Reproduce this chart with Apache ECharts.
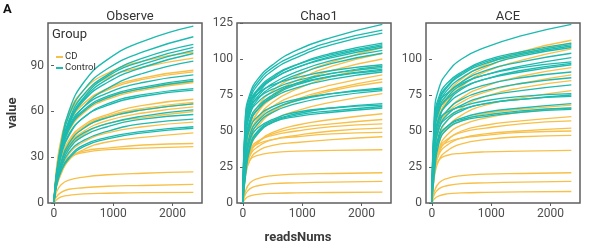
<!DOCTYPE html>
<html><head><meta charset="utf-8">
<script src="https://cdn.jsdelivr.net/npm/echarts@6/dist/echarts.min.js"></script>
<style>html,body{margin:0;padding:0;background:#fff}#c{width:596px;height:252px}</style>
</head><body><div id="c"></div>
<script>
// reads depths at which each rarefaction curve is sampled
var readsDepths = [0, 40, 120, 250, 500, 900, 1500, 2350];
var panelTitles = ['Observe', 'Chao1', 'ACE'];
var groupNames = ['CD', 'Control'];
var xTicks = [0, 1000, 2000];
var yTicksObserve = [0, 30, 60, 90];
var yTicksChao1 = [0, 25, 50, 75, 100, 125];
var yTicksACE = [0, 25, 50, 75, 100];

var observeCD = [
 [0,22,42,59,74,85,93,99],
 [0,21,40,57,71,82,89,95],
 [0,19,37,52,65,75,82,87],
 [0,19,36,52,65,74,81,86],
 [0,18,34,48,60,69,75,80],
 [0,17,33,47,59,68,74,79],
 [0,15,29,41,51,58,64,68],
 [0,15,28,40,50,57,62,66],
 [0,14,27,39,49,56,61,65],
 [0,14,26,38,47,54,59,63],
 [0,13,25,36,45,52,56,60],
 [0,12,22,32,40,46,50,53],
 [0,10,19,28,35,40,43,46],
 [0,14,23,29,34,36,38,39],
 [0,16,25,30,33,35,36,37],
 [0,7,12,15,17,18.5,19.5,20.4],
 [0,4,7,9,10,11,11.5,12.2],
 [0,2,4,5,6,6.4,6.8,7]
];
var observeControl = [
 [0,19,39,60,79,94,106,116],
 [0,17,37,57,74,88,99,109],
 [0,17,35,54,71,84,95,104],
 [0,16,35,53,69,83,93,102],
 [0,16,34,52,68,81,91,100],
 [0,16,33,51,67,79,89,98],
 [0,15,32,48,63,75,85,93],
 [0,18,35,50,63,72,79,84],
 [0,18,34,49,61,70,76,81],
 [0,18,34,48,60,69,75,80],
 [0,17,32,45,56,65,71,75],
 [0,16,31,44,56,64,70,74],
 [0,14,27,39,49,56,61,65],
 [0,13,26,37,46,52,57,61],
 [0,13,24,35,44,50,55,58],
 [0,12,23,33,41,47,52,55],
 [0,11,21,30,38,43,47,50],
 [0,11,21,29,37,42,46,49]
];
var chao1CD = [
 [0,35,55,67,78,88,98,108],
 [0,30,50,63,75,85,95,104],
 [0,33,52,63,73,83,92,100],
 [0,28,47,59,70,79,88,95],
 [0,30,48,58,67,75,82,89],
 [0,25,42,53,63,72,79,86],
 [0,28,45,55,64,71,78,84],
 [0,22,38,48,57,64,70,76],
 [0,20,34,42,49,54,58,62],
 [0,22,35,42,48,52,55,58],
 [0,25,37,43,47,50,53,55],
 [0,20,33,39,44,47,50,52],
 [0,24,36,41,44,46,48,49],
 [0,18,30,36,40,42,44,46],
 [0,20,30,33,35,36,36.5,37],
 [0,8,14,17,19,20,20.5,21],
 [0,6,10,12,13.5,14,14.5,15],
 [0,3,5,6,6.7,7,7.3,7.5]
];
var chao1Control = [
 [0,60,76,86,96,106,115,124],
 [0,58,74,84,94,103,112,120],
 [0,55,72,82,92,101,110,118],
 [0,50,68,78,87,96,104,111],
 [0,52,70,79,88,96,103,110],
 [0,48,66,76,86,94,102,109],
 [0,50,70,78,86,94,101,108],
 [0,45,64,74,83,91,99,106],
 [0,42,62,72,81,89,97,104],
 [0,55,70,76,82,87,92,96],
 [0,40,58,67,75,83,90,95],
 [0,50,66,73,79,85,90,94],
 [0,35,55,65,74,82,88,93],
 [0,45,62,70,77,83,88,92],
 [0,38,56,65,73,80,86,91],
 [0,30,48,57,65,71,76,80],
 [0,35,52,60,67,72,76,79],
 [0,28,45,55,63,69,74,78],
 [0,20,40,50,57,62,66,69],
 [0,25,44,52,58,63,66,68],
 [0,18,38,48,56,61,64,67],
 [0,22,40,49,56,60,63,66]
];
var aceCD = [
 [0,40,62,75,86,96,105,113],
 [0,35,58,72,84,94,103,111],
 [0,38,58,70,81,91,99,107],
 [0,32,52,63,73,81,88,94],
 [0,35,53,62,70,77,83,89],
 [0,28,46,57,66,74,80,85],
 [0,25,42,52,61,68,73,78],
 [0,30,44,51,57,62,65,68],
 [0,22,38,47,54,59,63,66],
 [0,20,35,43,50,54,57,60],
 [0,25,38,44,49,52,55,57],
 [0,22,34,40,45,48,50,52],
 [0,26,37,42,45,47,49,50],
 [0,18,30,36,41,44,46,47],
 [0,22,30,33,34.5,35.5,36,36.5],
 [0,8,14,17,19,20,20.5,21],
 [0,6,10,12,13.5,14,14.5,15],
 [0,3,5,6.3,7,7.4,7.7,8]
];
var aceControl = [
 [0,62,80,90,100,108,116,124],
 [0,58,74,83,91,99,105,111],
 [0,55,72,81,90,98,104,110],
 [0,52,70,80,89,97,103,109],
 [0,50,68,78,87,95,102,108],
 [0,48,66,75,84,92,98,104],
 [0,45,64,73,82,89,95,101],
 [0,55,70,76,83,89,94,98],
 [0,40,58,69,79,86,92,97],
 [0,50,65,72,80,86,91,96],
 [0,42,60,68,76,82,87,91],
 [0,38,55,64,72,78,83,87],
 [0,35,52,61,68,74,78,82],
 [0,45,58,63,67,71,74,76],
 [0,30,48,57,64,69,72,75],
 [0,35,52,59,65,69,72,74],
 [0,25,45,53,59,63,66,69],
 [0,28,46,53,58,61,64,66],
 [0,20,42,51,57,60,63,65]
];

var colors = {CD: '#F7C04A', Control: '#1DBAAF'};
var panels = [
  {cd: observeCD, ctl: observeControl, yMax: 118, yTicks: yTicksObserve},
  {cd: chao1CD, ctl: chao1Control, yMax: 125, yTicks: yTicksChao1},
  {cd: aceCD, ctl: aceControl, yMax: 125, yTicks: yTicksACE}
];
var lefts = [48, 237, 426];
var W = 154, TOP = 23, H = 180;
var font = 'Roboto, "DejaVu Sans", sans-serif';
var grids = [], xAxes = [], yAxes = [], series = [], titles = [];
function plain(v) { return String(v); }
panels.forEach(function (p, i) {
  grids.push({left: lefts[i], top: TOP, width: W, height: H, show: true,
    borderColor: '#5f5f5f', borderWidth: 1.5, backgroundColor: '#fff'});
  xAxes.push({type: 'value', gridIndex: i, min: -101, max: 2496,
    axisLine: {show: false}, splitLine: {show: false},
    axisTick: {show: true, length: 3, lineStyle: {color: '#5f5f5f', width: 1}, customValues: xTicks},
    axisLabel: {customValues: xTicks, formatter: plain, fontSize: 12, color: '#4d4d4d', fontFamily: font, margin: 5}});
  yAxes.push({type: 'value', gridIndex: i, min: 0, max: p.yMax,
    axisLine: {show: false}, splitLine: {show: false},
    axisTick: {show: true, length: 3, lineStyle: {color: '#5f5f5f', width: 1}, customValues: p.yTicks},
    axisLabel: {customValues: p.yTicks, formatter: plain, fontSize: 12, color: '#4d4d4d', fontFamily: font, margin: 4}});
  titles.push({text: panelTitles[i], left: lefts[i] + W / 2, top: 5, textAlign: 'center',
    textStyle: {fontSize: 13, fontWeight: 'normal', color: '#333', fontFamily: font}});
  [['CD', p.cd], ['Control', p.ctl]].forEach(function (g) {
    g[1].forEach(function (row) {
      series.push({type: 'line', name: g[0], xAxisIndex: i, yAxisIndex: i,
        data: readsDepths.map(function (x, k) { return [x, row[k]]; }),
        smooth: 0.5, showSymbol: false, symbol: 'none',
        lineStyle: {width: 1.35, color: colors[g[0]]}, itemStyle: {color: colors[g[0]]},
        silent: true});
    });
  });
});

var chart = echarts.init(document.getElementById('c'), null, {renderer: 'canvas'});
chart.setOption({
  animation: false,
  backgroundColor: '#fff',
  title: titles,
  grid: grids, xAxis: xAxes, yAxis: yAxes, series: series,
  legend: {data: groupNames, orient: 'vertical', left: 51, top: 47, itemGap: 1,
    itemWidth: 7, itemHeight: 2, icon: 'rect',
    textStyle: {fontSize: 9.5, color: '#333', fontFamily: font, padding: [0, 0, 0, -3]}},
  graphic: [
    {type: 'text', left: 3, top: 3, style: {text: 'A', font: 'bold 13px ' + font, fill: '#111'}},
    {type: 'text', left: 52, top: 28, style: {text: 'Group', font: '13px ' + font, fill: '#333'}},
    {type: 'text', x: 13, y: 113, rotation: Math.PI / 2,
      style: {text: 'value', font: 'bold 13px ' + font, fill: '#3a3a3a', align: 'center', verticalAlign: 'middle'}},
    {type: 'text', x: 298, y: 238,
      style: {text: 'readsNums', font: 'bold 13px ' + font, fill: '#3a3a3a', align: 'center', verticalAlign: 'middle'}}
  ]
});
</script></body></html>
